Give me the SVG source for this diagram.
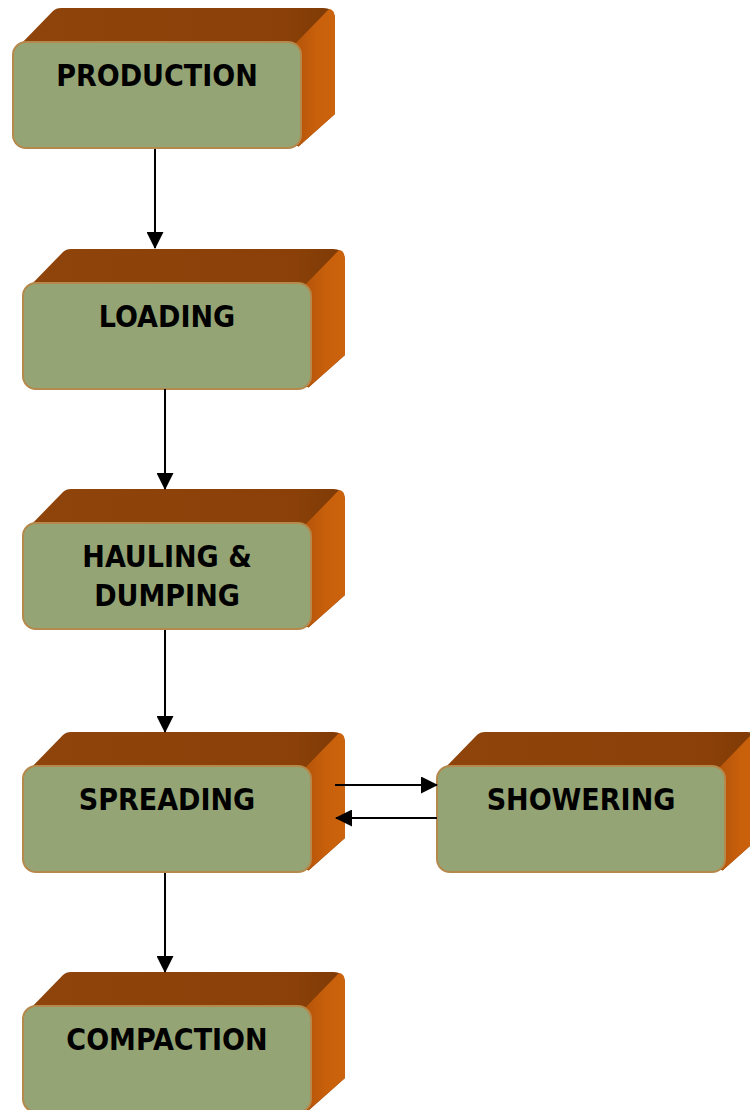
<svg xmlns="http://www.w3.org/2000/svg" xmlns:xlink="http://www.w3.org/1999/xlink" width="750" height="1110" viewBox="0 0 750 1110">
<style>
.lbl{font-family:"DejaVu Sans Condensed","DejaVu Sans","Liberation Sans",sans-serif;font-stretch:condensed;font-weight:bold;font-size:30px;fill:#000;text-anchor:middle}
.conn{stroke:#000;stroke-width:2;fill:none}
</style>
<defs>
<linearGradient id="sideGrad" x1="0" y1="0" x2="1" y2="0">
<stop offset="0" stop-color="#B4540A"/>
<stop offset="0.5" stop-color="#C75F0B"/>
<stop offset="1" stop-color="#CC640E"/>
</linearGradient>
<linearGradient id="topGrad" x1="0" y1="0" x2="1" y2="0">
<stop offset="0" stop-color="#8E440A"/>
<stop offset="0.85" stop-color="#8A4008"/>
<stop offset="1" stop-color="#7E3A06"/>
</linearGradient>
<marker id="ah" markerUnits="userSpaceOnUse" markerWidth="17" markerHeight="17" viewBox="0 0 17 17" refX="16" refY="8.5" orient="auto">
<path d="M0,0 L17,8.5 L0,17 Z" fill="#000"/>
</marker>
<g id="box">
<path d="M4,40 L40,3 Q43,0 48,0 L310,0 Q322,0 322,12 L322,106 L286,138 L12,138 Z" fill="url(#topGrad)"/>
<path d="M282,36 L316,1 Q322,1 322,12 L322,106 L285,139 Z" fill="url(#sideGrad)"/>
<rect x="0" y="34" width="288" height="106" rx="13" ry="13" fill="#95A474" stroke="#B5884B" stroke-width="2"/>
</g>
</defs>
<g id="production" transform="translate(13,8)">
<use xlink:href="#box"/>
<text class="lbl" x="144" y="78">PRODUCTION</text>
</g>
<g id="loading" transform="translate(23,249)">
<use xlink:href="#box"/>
<text class="lbl" x="144" y="78">LOADING</text>
</g>
<g id="hauling" transform="translate(23,489)">
<use xlink:href="#box"/>
<text class="lbl" x="144" y="78">HAULING &amp;</text>
<text class="lbl" x="144" y="117">DUMPING</text>
</g>
<g id="spreading" transform="translate(23,732)">
<use xlink:href="#box"/>
<text class="lbl" x="144" y="78">SPREADING</text>
</g>
<g id="showering" transform="translate(437,732)">
<use xlink:href="#box"/>
<text class="lbl" x="144" y="78">SHOWERING</text>
</g>
<g id="compaction" transform="translate(23,972)">
<use xlink:href="#box"/>
<text class="lbl" x="144" y="78">COMPACTION</text>
</g>
<g id="connectors">
<line class="conn" x1="155" y1="149" x2="155" y2="248" marker-end="url(#ah)"/>
<line class="conn" x1="165" y1="389" x2="165" y2="489" marker-end="url(#ah)"/>
<line class="conn" x1="165" y1="630" x2="165" y2="732" marker-end="url(#ah)"/>
<line class="conn" x1="165" y1="873" x2="165" y2="972" marker-end="url(#ah)"/>
<line class="conn" x1="335" y1="785" x2="437" y2="785" marker-end="url(#ah)"/>
<line class="conn" x1="437" y1="818" x2="336" y2="818" marker-end="url(#ah)"/>
</g>
</svg>
